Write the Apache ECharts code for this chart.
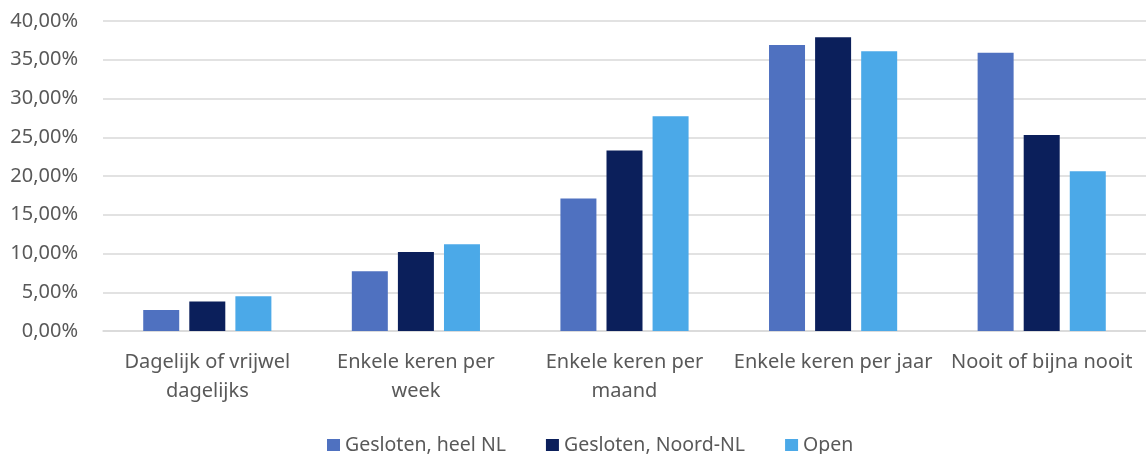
<!DOCTYPE html>
<html><head><meta charset="utf-8">
<script src="https://cdn.jsdelivr.net/npm/echarts@6/dist/echarts.min.js"></script>
<style>html,body{margin:0;padding:0;background:#fff}#c{width:1146px;height:454px}</style>
</head><body><div id="c"></div>
<script>
const categories = ["Dagelijk of vrijwel\ndagelijks", "Enkele keren per\nweek", "Enkele keren per\nmaand", "Enkele keren per jaar", "Nooit of bijna nooit"];
const seriesNames = ["Gesloten, heel NL", "Gesloten, Noord-NL", "Open"];
const heelNL = [2.7, 7.7, 17.1, 36.9, 35.9];
const noordNL = [3.8, 10.2, 23.3, 37.9, 25.3];
const open = [4.5, 11.2, 27.7, 36.1, 20.6];
const colors = ["#4F71C0", "#0B1F5B", "#4BA9E8"];
const font = "'Noto Sans', sans-serif";
const chart = echarts.init(document.getElementById('c'));
const mk = (name, data, color) => ({
  name, type: 'bar', data, barWidth: 36, barGap: '28%',
  itemStyle: { color }
});
chart.setOption({
  animation: false,
  textStyle: { fontFamily: font },
  grid: { left: 103, right: 0, top: 21, bottom: 123 },
  legend: {
    top: 430, left: 322, itemWidth: 13, itemHeight: 12, itemGap: 40,
    icon: 'rect',
    textStyle: { fontSize: 19.5, color: '#595959', fontFamily: font },
    data: seriesNames
  },
  xAxis: {
    type: 'category', data: categories,
    axisLine: { lineStyle: { color: '#d9d9d9', width: 1.5 } },
    axisTick: { show: false },
    axisLabel: { fontSize: 20, color: '#595959', lineHeight: 29, margin: 17, interval: 0 }
  },
  yAxis: {
    type: 'value', min: 0, max: 40, interval: 5,
    axisLine: { show: false }, axisTick: { show: false },
    splitLine: { lineStyle: { color: '#d9d9d9', width: 1.5 } },
    axisLabel: { fontSize: 20, color: '#595959', margin: 25,
      formatter: v => v.toFixed(2).replace('.', ',') + '%' }
  },
  series: [mk(seriesNames[0], heelNL, colors[0]), mk(seriesNames[1], noordNL, colors[1]), mk(seriesNames[2], open, colors[2])]
});
</script></body></html>
